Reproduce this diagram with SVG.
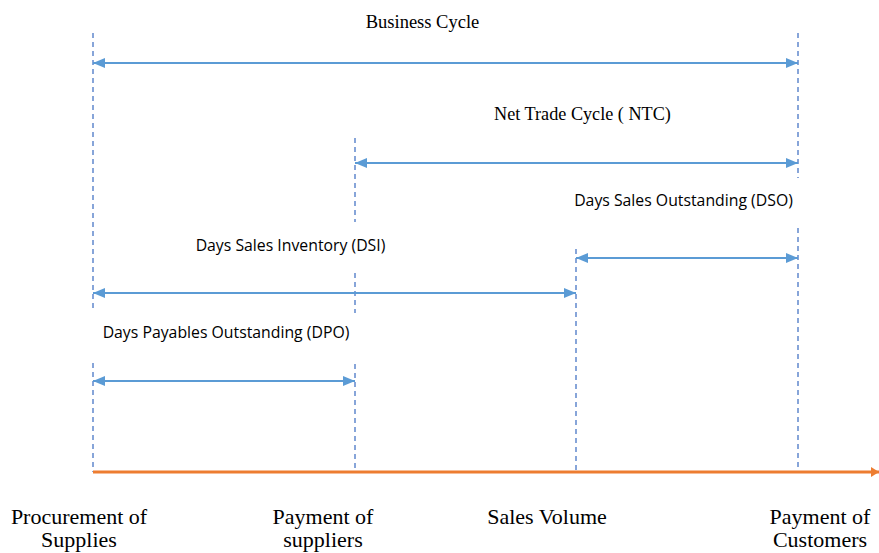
<svg xmlns="http://www.w3.org/2000/svg" width="879" height="553" viewBox="0 0 879 553">
<style>
.guide{stroke:#4472c4;stroke-width:1.5;stroke-dasharray:5,4;fill:none;opacity:0.85}
.span{stroke:#5b9bd5;stroke-width:2;fill:none;marker-start:url(#ah);marker-end:url(#ah)}
.serif{font-family:"Liberation Serif","Times New Roman",serif;fill:#000}
.sans{font-family:"Open Sans","Liberation Sans",Arial,sans-serif;font-size:15.8px;fill:#000}
.bot{font-family:"Liberation Serif","Times New Roman",serif;font-size:22px;fill:#000;text-anchor:middle}
</style>
<defs>
<marker id="ah" viewBox="0 0 12 10" refX="12" refY="5" markerWidth="12" markerHeight="10" markerUnits="userSpaceOnUse" orient="auto-start-reverse">
<path d="M0,0 L12,5 L0,10 Z" fill="#5b9bd5"/>
</marker>
<marker id="oh" viewBox="0 0 8 10" refX="8" refY="5" markerWidth="8" markerHeight="10" markerUnits="userSpaceOnUse" orient="auto">
<path d="M0,0 L8,5 L0,10 Z" fill="#ed7d31"/>
</marker>
</defs>
<g id="guides">
<line class="guide" x1="93" y1="33" x2="93" y2="308"/>
<line class="guide" x1="93" y1="363" x2="93" y2="472"/>
<line class="guide" x1="355" y1="138" x2="355" y2="222"/>
<line class="guide" x1="355" y1="273" x2="355" y2="313"/>
<line class="guide" x1="355" y1="364" x2="355" y2="472"/>
<line class="guide" x1="576" y1="249" x2="576" y2="472"/>
<line class="guide" x1="798" y1="33" x2="798" y2="178"/>
<line class="guide" x1="798" y1="228" x2="798" y2="472"/>
</g>
<g id="connectors">
<line class="span" x1="93" y1="63" x2="798" y2="63"/>
<line class="span" x1="355" y1="163" x2="798" y2="163"/>
<line class="span" x1="576" y1="258" x2="798" y2="258"/>
<line class="span" x1="93" y1="293" x2="576" y2="293"/>
<line class="span" x1="93" y1="381" x2="355" y2="381"/>
<line x1="93" y1="472" x2="879" y2="472" stroke="#ed7d31" stroke-width="3" marker-end="url(#oh)"/>
</g>
<g id="labels">
<text class="serif" x="422.5" y="28" font-size="18.5" text-anchor="middle">Business Cycle</text>
<text class="serif" x="582.5" y="120" font-size="18.2" text-anchor="middle">Net Trade Cycle ( NTC)</text>
<text class="sans" x="683.5" y="206" text-anchor="middle">Days Sales Outstanding (DSO)</text>
<text class="sans" x="290.5" y="251" text-anchor="middle">Days Sales Inventory (DSI)</text>
<text class="sans" x="226" y="338" text-anchor="middle">Days Payables Outstanding (DPO)</text>
</g>
<g id="node-procurement">
<text class="bot" x="79" y="524">Procurement of</text>
<text class="bot" x="79" y="547">Supplies</text>
</g>
<g id="node-payment-suppliers">
<text class="bot" x="323" y="524">Payment of</text>
<text class="bot" x="323" y="547">suppliers</text>
</g>
<g id="node-sales-volume">
<text class="bot" x="547" y="524">Sales Volume</text>
</g>
<g id="node-payment-customers">
<text class="bot" x="820" y="524">Payment of</text>
<text class="bot" x="820" y="547">Customers</text>
</g>
</svg>
